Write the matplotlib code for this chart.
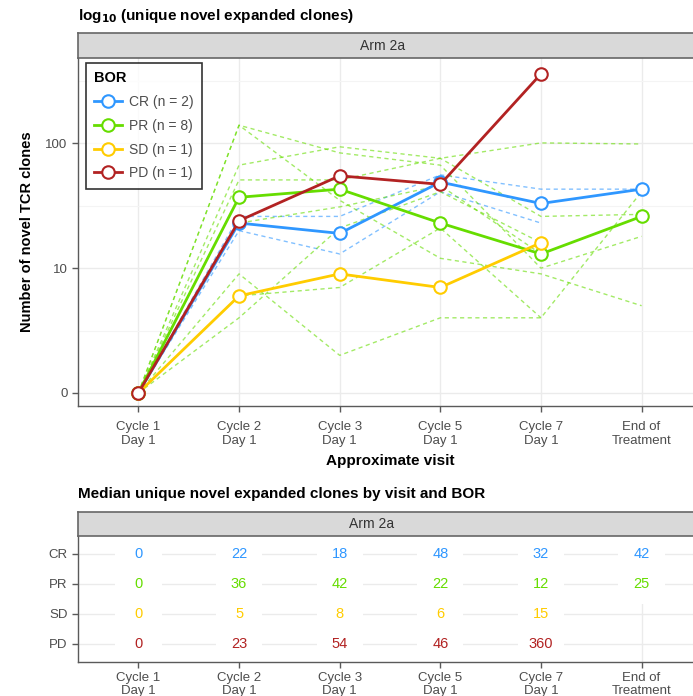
import numpy as np
import matplotlib.pyplot as plt
from matplotlib.lines import Line2D
from matplotlib.patches import Rectangle

plt.rcParams['font.family'] = ['Liberation Sans', 'DejaVu Sans']

visits = ['Cycle 1\nDay 1', 'Cycle 2\nDay 1', 'Cycle 3\nDay 1', 'Cycle 5\nDay 1',
          'Cycle 7\nDay 1', 'End of\nTreatment']
bor = ['CR', 'PR', 'SD', 'PD']
bor_n = [2, 8, 1, 1]
colors = {'CR': '#2f97ff', 'PR': '#66dd00', 'SD': '#ffcc00', 'PD': '#b22222'}

# medians per BOR (also the table)
med_cr = [0, 22, 18, 48, 32, 42]
med_pr = [0, 36, 42, 22, 12, 25]
med_sd = [0, 5, 8, 6, 15, np.nan]
med_pd = [0, 23, 54, 46, 360, np.nan]
medians = {'CR': med_cr, 'PR': med_pr, 'SD': med_sd, 'PD': med_pd}

# individual patients (dashed)
cr_pts = [
    [0, 25, 25, 55, 42, 42],
    [0, 19, 12, 40, 22, np.nan],
]
pr_pts = [
    [0, 139, 83, 66, 9, 17],
    [0, 139, 34, 11, 8, 4],
    [0, 66, 93, 75, 25, 26],
    [0, 50, 50, 75, 100, 98],
    [0, 22, 30, 45, 12, np.nan],
    [0, 8, 1, 3, 3, 40],
    [0, 5, 6, 20, 3, np.nan],
    [0, 3, 20, 40, 15, np.nan],
]


def tr(v):
    return np.log10(np.asarray(v, dtype=float) + 1)


W, H = 693, 696
fig = plt.figure(figsize=(W / 100, H / 100), dpi=100)


def fx(px):
    return px / W


def fy(py):
    return 1 - py / H


grid_c = '#ebebeb'
tick_c = '#4d4d4d'
spine_c = '#5a5a5a'
x = np.arange(len(visits))
L, R = 78, 702

# ---------- top plot ----------
ax = fig.add_axes([fx(L), fy(406), fx(R - L), fy(58) - fy(406)])
ax.set_xlim(-0.6, 5.6)
ax.set_ylim(-0.105, 2.685)
for s in ['top', 'right']:
    ax.spines[s].set_visible(False)
for s in ['left', 'bottom']:
    ax.spines[s].set_color(spine_c)
    ax.spines[s].set_linewidth(1.0)
ax.set_yticks([0, 1, 2])
ax.set_yticklabels(['0', '10', '100'])
ax.set_yticks([0.5, 1.5, 2.5], minor=True)
ax.tick_params(axis='y', which='minor', length=0)
ax.set_xticks(x)
ax.set_xticklabels(visits, linespacing=1.2)
ax.tick_params(colors=spine_c, labelcolor=tick_c, labelsize=9.5, length=4, width=1)
ax.tick_params(axis='x', pad=7)
ax.grid(True, which='major', color=grid_c, lw=1.0)
ax.grid(True, which='minor', axis='y', color='#f4f4f4', lw=0.8)
ax.set_axisbelow(True)

for p in cr_pts:
    ax.plot(x, tr(p), ls=(0, (3, 2.5)), color=colors['CR'], alpha=0.6, lw=1.0)
for p in pr_pts:
    ax.plot(x, tr(p), ls=(0, (3, 2.5)), color=colors['PR'], alpha=0.6, lw=1.0)
for b in bor:
    ax.plot(x, tr(medians[b]), color=colors[b], lw=2.0, marker='o', ms=9,
            mfc='white', mec=colors[b], mew=1.5, zorder=5)

ax.set_xlabel('Approximate visit', fontsize=11, fontweight='bold', labelpad=5)
ax.set_ylabel('Number of novel TCR clones', fontsize=10.5, fontweight='bold', labelpad=8)

handles = [Line2D([], [], color=colors[b], lw=2.0, marker='o', ms=9, mfc='white',
                  mec=colors[b], mew=1.5) for b in bor]
labels = [f'{b} (n = {n})' for b, n in zip(bor, bor_n)]
leg = fig.legend(handles, labels, title='BOR', loc='upper left',
                 bbox_to_anchor=(fx(86), fy(63)), borderaxespad=0, fontsize=10,
                 title_fontproperties={'weight': 'bold', 'size': 10.5},
                 frameon=True, fancybox=False, edgecolor='black', labelspacing=0.7,
                 handlelength=2.0, handletextpad=0.5, borderpad=0.6, alignment='left')
leg.get_frame().set_linewidth(1.2)
for t in leg.get_texts():
    t.set_color(tick_c)

# strip
sax = fig.add_axes([fx(L), fy(58), fx(R - L), fy(33) - fy(58)])
sax.set_xticks([])
sax.set_yticks([])
sax.set_facecolor('#d9d9d9')
for s in sax.spines.values():
    s.set_color('#666666')
    s.set_linewidth(1.2)
sax.text(fx(383 - L) / fx(R - L), 0.5, 'Arm 2a', ha='center', va='center',
         fontsize=10, color='#333333', transform=sax.transAxes)

fig.text(fx(78), fy(16), r'log$_{\mathbf{10}}$ (unique novel expanded clones)', fontsize=11,
         fontweight='bold', va='center', ha='left')

# ---------- bottom table ----------
tax = fig.add_axes([fx(L), fy(662), fx(R - L), fy(536) - fy(662)])
tax.set_xlim(-0.6, 5.6)
tax.set_ylim(0.4, 4.6)
rows = np.arange(len(bor), 0, -1)
tax.set_yticks(rows)
tax.set_yticklabels(bor)
tax.set_xticks(x)
tax.set_xticklabels(visits, linespacing=1.15)
for s in ['top', 'right']:
    tax.spines[s].set_visible(False)
for s in ['left', 'bottom']:
    tax.spines[s].set_color(spine_c)
    tax.spines[s].set_linewidth(1.0)
tax.tick_params(colors=spine_c, labelcolor=tick_c, labelsize=9.5, length=4, width=1)
tax.tick_params(axis='x', pad=3)
tax.grid(True, color=grid_c, lw=1.0)
tax.set_axisbelow(True)
for r, b in zip(rows, bor):
    for xi, v in zip(x, medians[b]):
        if np.isnan(v):
            continue
        tax.add_patch(Rectangle((xi - 0.23, r - 0.66), 0.46, 1.32, facecolor='white',
                                edgecolor='none', zorder=2))
        tax.text(xi, r, f'{int(v)}', ha='center', va='center', color=colors[b],
                 fontsize=10.5, zorder=3)

sax2 = fig.add_axes([fx(L), fy(536), fx(R - L), fy(512) - fy(536)])
sax2.set_xticks([])
sax2.set_yticks([])
sax2.set_facecolor('#d9d9d9')
for s in sax2.spines.values():
    s.set_color('#666666')
    s.set_linewidth(1.2)
sax2.text(fx(372 - L) / fx(R - L), 0.5, 'Arm 2a', ha='center', va='center',
          fontsize=10, color='#333333', transform=sax2.transAxes)

fig.text(fx(78), fy(494), 'Median unique novel expanded clones by visit and BOR',
         fontsize=11, fontweight='bold', va='center', ha='left')

fig.savefig('out.png', dpi=100)
